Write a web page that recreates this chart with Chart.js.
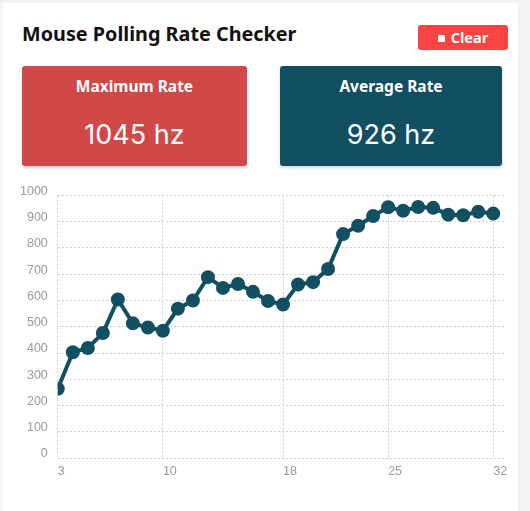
<!DOCTYPE html>
<html>
<head>
<meta charset="utf-8">
<script src="https://cdn.jsdelivr.net/npm/chart.js@4.4.0/dist/chart.umd.min.js"></script>
<style>
  html, body { margin: 0; padding: 0; }
  body { background: #f3f3f4; width: 530px; height: 511px; overflow: hidden; position: relative; font-family: "Noto Sans", "Open Sans", sans-serif; }
  .card { position: absolute; left: 3px; top: 3px; width: 515px; height: 520px; background: #fff; }
  h1 { position: absolute; left: 19px; top: 17px; margin: 0; font-size: 19.8px; font-weight: 700; color: #111; }
  .btn { position: absolute; left: 415px; top: 22px; width: 90px; height: 25px; background: #fd4445; border-radius: 3px; color: #fff; font-family: "Open Sans", sans-serif; font-weight: 700; font-size: 14.5px; line-height: 25px; text-align: center; }
  .btn i { display: inline-block; width: 7px; height: 7px; background: #fff; border-radius: 1px; margin-right: 6px; vertical-align: 1px; }
  .stat { position: absolute; top: 63px; height: 100px; border-radius: 3px; color: #fff; text-align: center; box-shadow: 0 2px 3px rgba(0,0,0,0.15); }
  .stat .t { margin-top: 9px; font-size: 15.5px; font-weight: 700; }
  .stat .v { margin-top: 21px; font-family: Inter, Roboto, sans-serif; font-size: 27px; font-weight: 400; }
  #max { left: 19px; width: 225px; background: #d14848; }
  #avg { left: 277px; width: 222px; background: #124f63; }
  #wrap { position: absolute; left: 7px; top: 175px; width: 505px; height: 307px; }
</style>
</head>
<body>
<div class="card">
  <h1>Mouse Polling Rate Checker</h1>
  <div class="btn"><i></i>Clear</div>
  <div class="stat" id="max"><div class="t">Maximum Rate</div><div class="v">1045 hz</div></div>
  <div class="stat" id="avg"><div class="t">Average Rate</div><div class="v">926 hz</div></div>
  <div id="wrap"><canvas id="chart"></canvas></div>
</div>
<script>
// samples (x) and polling rate readings (y)
const samples = [3, 4, 5, 6, 7, 8, 9, 10, 11, 12, 13, 14, 15, 16, 17, 18, 19, 20, 21, 22, 23, 24, 25, 26, 27, 28, 29, 30, 31, 32];
const rates = [264, 403, 419, 476, 604, 513, 497, 485, 569, 600, 689, 648, 663, 633, 598, 585, 661, 670, 720, 853, 885, 922, 955, 942, 956, 953, 927, 925, 938, 931];
const xTicks = [3, 10, 18, 25, 32];
const yMax = 1000;

const points = samples.map((s, i) => ({ x: s, y: rates[i] }));

var ctx = document.getElementById("chart").getContext("2d");
new Chart(ctx, {
  type: "line",
  data: {
    datasets: [
      {
        data: points,
        borderColor: "#124f63",
        backgroundColor: "#124f63",
        borderWidth: 4,
        pointRadius: 5,
        pointHoverRadius: 5,
        tension: 0,
        fill: false,
      },
    ],
  },
  options: {
    responsive: true,
    maintainAspectRatio: false,
    animation: false,
    plugins: { legend: { display: false }, tooltip: { enabled: false } },
    layout: { padding: { top: 6, right: 0, left: 0, bottom: 0 } },
    scales: {
      x: {
        type: "linear",
        min: 3,
        max: 32.85,
        afterBuildTicks: (scale) => {
          scale.ticks = xTicks.map((v) => ({ value: v }));
        },
        grid: { color: "#cfcfcf", drawTicks: false },
        border: { display: false, dash: [2, 2] },
        ticks: { color: "#9a9a9a", font: { size: 12.5 }, align: "start", padding: 6, maxRotation: 0, callback: (v) => String(v) },
      },
      y: {
        min: 0,
        max: yMax,
        grid: { color: "#cfcfcf", drawTicks: false },
        border: { display: false, dash: [2, 2] },
        ticks: { stepSize: 100, color: "#9a9a9a", font: { size: 12.5 }, padding: 10, labelOffset: -4, callback: (v) => String(v) },
      },
    },
  },
});
</script>
</body>
</html>
